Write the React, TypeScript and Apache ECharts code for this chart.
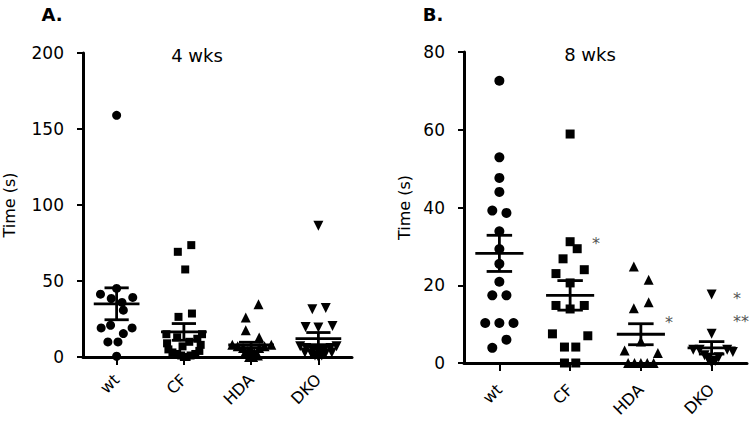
import React, { useEffect, useRef } from "react";
import * as echarts from "echarts";

const categories = ["wt", "CF", "HDA", "DKO"];

// Panel A (4 wks)
const aWtValues = [159, 45.1, 41.3, 38.5, 39.2, 35.9, 30.8, 20.9, 19.1, 19.1, 15.4, 9.9, 9.9, 0.5];
const aWtJitter = [0, 0, -0.24, -0.08, 0.24, 0.08, 0.1, -0.09, -0.23, 0.23, 0.1, -0.13, 0.02, 0];
const aCfValues = [73.6, 69.2, 57.6, 28.6, 26.4, 15, 15, 13, 12, 10, 9, 8, 7, 5, 4, 3, 2, 2, 1, 1, 0, 0];
const aCfJitter = [0.11, -0.09, 0.02, 0.12, -0.08, -0.26, 0.27, -0.1, 0.2, 0.08, -0.25, 0.25, -0.02, -0.23, 0.23, -0.17, 0.17, -0.1, 0.1, -0.04, 0.04, 0];
const aHdaValues = [34.7, 26, 17.6, 12.8, 8, 8, 7, 7, 6, 6, 5, 4, 3, 2, 1, 0, 0];
const aHdaJitter = [0.11, -0.08, -0.08, 0.12, -0.28, 0.3, -0.2, 0.2, -0.12, 0.12, 0, -0.05, 0.05, -0.1, 0.1, -0.03, 0.03];
const aDkoValues = [86.4, 32.3, 31.4, 20.4, 19.8, 19.4, 7, 7, 6, 6, 5, 5, 4, 3, 3, 2, 2, 1, 1, 0];
const aDkoJitter = [0, 0.11, -0.09, 0.21, -0.19, 0, -0.27, 0.27, -0.18, 0.18, -0.09, 0.09, 0, -0.2, 0.2, -0.1, 0.1, -0.05, 0.05, 0];
const aMeans = [35, 16.5, 7.9, 12.1];
const aSems = [10.5, 5.5, 1.8, 4.0];

// Panel B (8 wks)
const bWtValues = [72.6, 52.9, 47.6, 44.0, 39.2, 38.6, 33.9, 29.3, 25.5, 20.9, 17.4, 17.4, 10.3, 10.3, 10.3, 6.0, 3.9];
const bWtJitter = [0, 0, 0, 0, -0.1, 0.1, 0, 0, 0, 0, -0.1, 0.1, -0.2, 0, 0.2, 0.1, -0.1];
const bCfValues = [58.9, 31.2, 29.4, 26.8, 24.0, 23.0, 20.6, 14.8, 14.8, 13.9, 7.5, 7.0, 4.1, 4.1, 0, 0];
const bCfJitter = [0, 0, 0.1, -0.1, 0.2, -0.2, 0, -0.2, 0.2, 0, -0.25, 0.25, -0.08, 0.08, -0.08, 0.08];
const bHdaValues = [24.8, 21.4, 15.6, 14.1, 5.5, 3.2, 2.6, 0, 0, 0, 0, 0];
const bHdaJitter = [-0.1, 0.11, 0.11, -0.1, 0, -0.23, 0.24, -0.18, -0.09, 0, 0.09, 0.18];
const bDkoValues = [17.6, 7.5, 3.4, 3.4, 3.4, 2.8, 2.0, 1.5, 1.0, 0.5, 0];
const bDkoJitter = [0, 0, -0.26, -0.17, 0.22, 0.3, -0.1, 0.1, -0.05, 0.05, 0];
const bMeans = [28.2, 17.4, 7.4, 3.9];
const bSems = [4.65, 3.8, 2.7, 1.6];

const FONT = "'DejaVu Sans', Arial, sans-serif";

function pts(catIdx: number, vals: number[], jit: number[]) {
  return vals.map((v, i) => [catIdx + jit[i], v]);
}

const symbols = [
  { symbol: "circle", rotate: 0 },
  { symbol: "rect", rotate: 0 },
  { symbol: "triangle", rotate: 0 },
  { symbol: "triangle", rotate: 180 },
];

export default function App() {
  const ref = useRef<HTMLDivElement>(null);
  useEffect(() => {
    if (!ref.current) return;
    const chart = echarts.init(ref.current, null, { renderer: "svg" });

    const groupsA = [
      pts(0, aWtValues, aWtJitter),
      pts(1, aCfValues, aCfJitter),
      pts(2, aHdaValues, aHdaJitter),
      pts(3, aDkoValues, aDkoJitter),
    ];
    const groupsB = [
      pts(0, bWtValues, bWtJitter),
      pts(1, bCfValues, bCfJitter),
      pts(2, bHdaValues, bHdaJitter),
      pts(3, bDkoValues, bDkoJitter),
    ];

    const scatter = (data: number[][], k: number, xi: number, yi: number, sizes: number[]) => ({
      type: "scatter",
      xAxisIndex: xi,
      yAxisIndex: yi,
      data,
      symbol: symbols[k].symbol,
      symbolRotate: symbols[k].rotate,
      symbolSize: sizes[k],
      itemStyle: { color: "#000", opacity: 1 },
      silent: true,
      z: 2,
    });

    const errRender = (params: any, api: any) => {
      const x = api.value(0);
      const m = api.value(1);
      const s = api.value(2);
      const c = api.coord([x, m]);
      const t = api.coord([x, m + s]);
      const b = api.coord([x, Math.max(m - s, 0)]);
      const band = api.size([1, 0])[0];
      const half = band * 0.34;
      const cap = band * 0.18;
      const st = { stroke: "#000", lineWidth: 2.8 };
      return {
        type: "group",
        children: [
          { type: "line", shape: { x1: c[0] - half, y1: c[1], x2: c[0] + half, y2: c[1] }, style: st },
          { type: "line", shape: { x1: c[0], y1: t[1], x2: c[0], y2: b[1] }, style: st },
          { type: "line", shape: { x1: c[0] - cap, y1: t[1], x2: c[0] + cap, y2: t[1] }, style: st },
          { type: "line", shape: { x1: c[0] - cap, y1: b[1], x2: c[0] + cap, y2: b[1] }, style: st },
        ],
      };
    };

    const catAxis = (gi: number, margin: number) => ({
      gridIndex: gi,
      type: "category",
      data: categories,
      axisLine: { show: true, onZero: false, lineStyle: { color: "#000", width: 3 } },
      axisTick: { show: true, alignWithLabel: true, length: 8, lineStyle: { color: "#000", width: 2 } },
      axisLabel: { rotate: 45, fontSize: 16, color: "#000", fontFamily: FONT, margin },
      splitLine: { show: false },
    });
    const valX = (gi: number) => ({
      gridIndex: gi,
      type: "value",
      min: -0.5,
      max: 3.5,
      show: false,
    });
    const yAx = (gi: number, max: number, interval: number, gap: number) => ({
      gridIndex: gi,
      type: "value",
      min: 0,
      max,
      interval,
      name: "Time (s)",
      nameLocation: "middle",
      nameGap: gap,
      nameRotate: 90,
      nameTextStyle: { fontSize: 16, color: "#000", fontFamily: FONT },
      axisLine: { show: true, onZero: false, lineStyle: { color: "#000", width: 3 } },
      axisTick: { show: true, length: 6, lineStyle: { color: "#000", width: 2 } },
      axisLabel: { fontSize: 17, color: "#000", fontFamily: FONT, margin: 19 },
      splitLine: { show: false },
    });

    const sizesA = [9, 8, 10, 10];
    const sizesB = [10, 9, 10, 10];

    const series: any[] = [];
    groupsA.forEach((g, k) => series.push(scatter(g, k, 1, 0, sizesA)));
    groupsB.forEach((g, k) => series.push(scatter(g, k, 3, 1, sizesB)));
    series.push({
      type: "custom",
      xAxisIndex: 1,
      yAxisIndex: 0,
      renderItem: errRender,
      data: aMeans.map((m, i) => [i, m, aSems[i]]),
      silent: true,
      z: 3,
    });
    series.push({
      type: "custom",
      xAxisIndex: 3,
      yAxisIndex: 1,
      renderItem: errRender,
      data: bMeans.map((m, i) => [i, m, bSems[i]]),
      silent: true,
      z: 3,
    });

    const txt = (text: string, x: number, y: number, size: number, weight = "normal", fill = "#000") => ({
      type: "text",
      x,
      y,
      style: {
        text,
        fill,
        fontSize: size,
        fontWeight: weight,
        fontFamily: FONT,
        align: "center",
        verticalAlign: "middle",
      },
    });

    chart.setOption({
      animation: false,
      backgroundColor: "#fff",
      grid: [
        { left: 83, top: 53, width: 269, height: 304 },
        { left: 464, top: 52, width: 283, height: 311 },
      ],
      xAxis: [catAxis(0, 20), valX(0), catAxis(1, 24), valX(1)],
      yAxis: [yAx(0, 200, 50, 66), yAx(1, 80, 20, 52)],
      series,
      graphic: [
        txt("A.", 52, 14, 18, "bold"),
        txt("B.", 433, 14, 18, "bold"),
        txt("4 wks", 197, 55, 18),
        txt("8 wks", 590, 54, 18),
        txt("*", 596, 243, 16, "normal", "#555"),
        txt("*", 669, 322, 16, "normal", "#555"),
        txt("*", 737, 298, 16, "normal", "#555"),
        txt("**", 741, 321, 16, "normal", "#555"),
      ],
    });
    return () => chart.dispose();
  }, []);
  return (
    <div
      ref={ref}
      style={{ position: "absolute", left: 0, top: 0, width: 749, height: 423, background: "#fff" }}
    />
  );
}
